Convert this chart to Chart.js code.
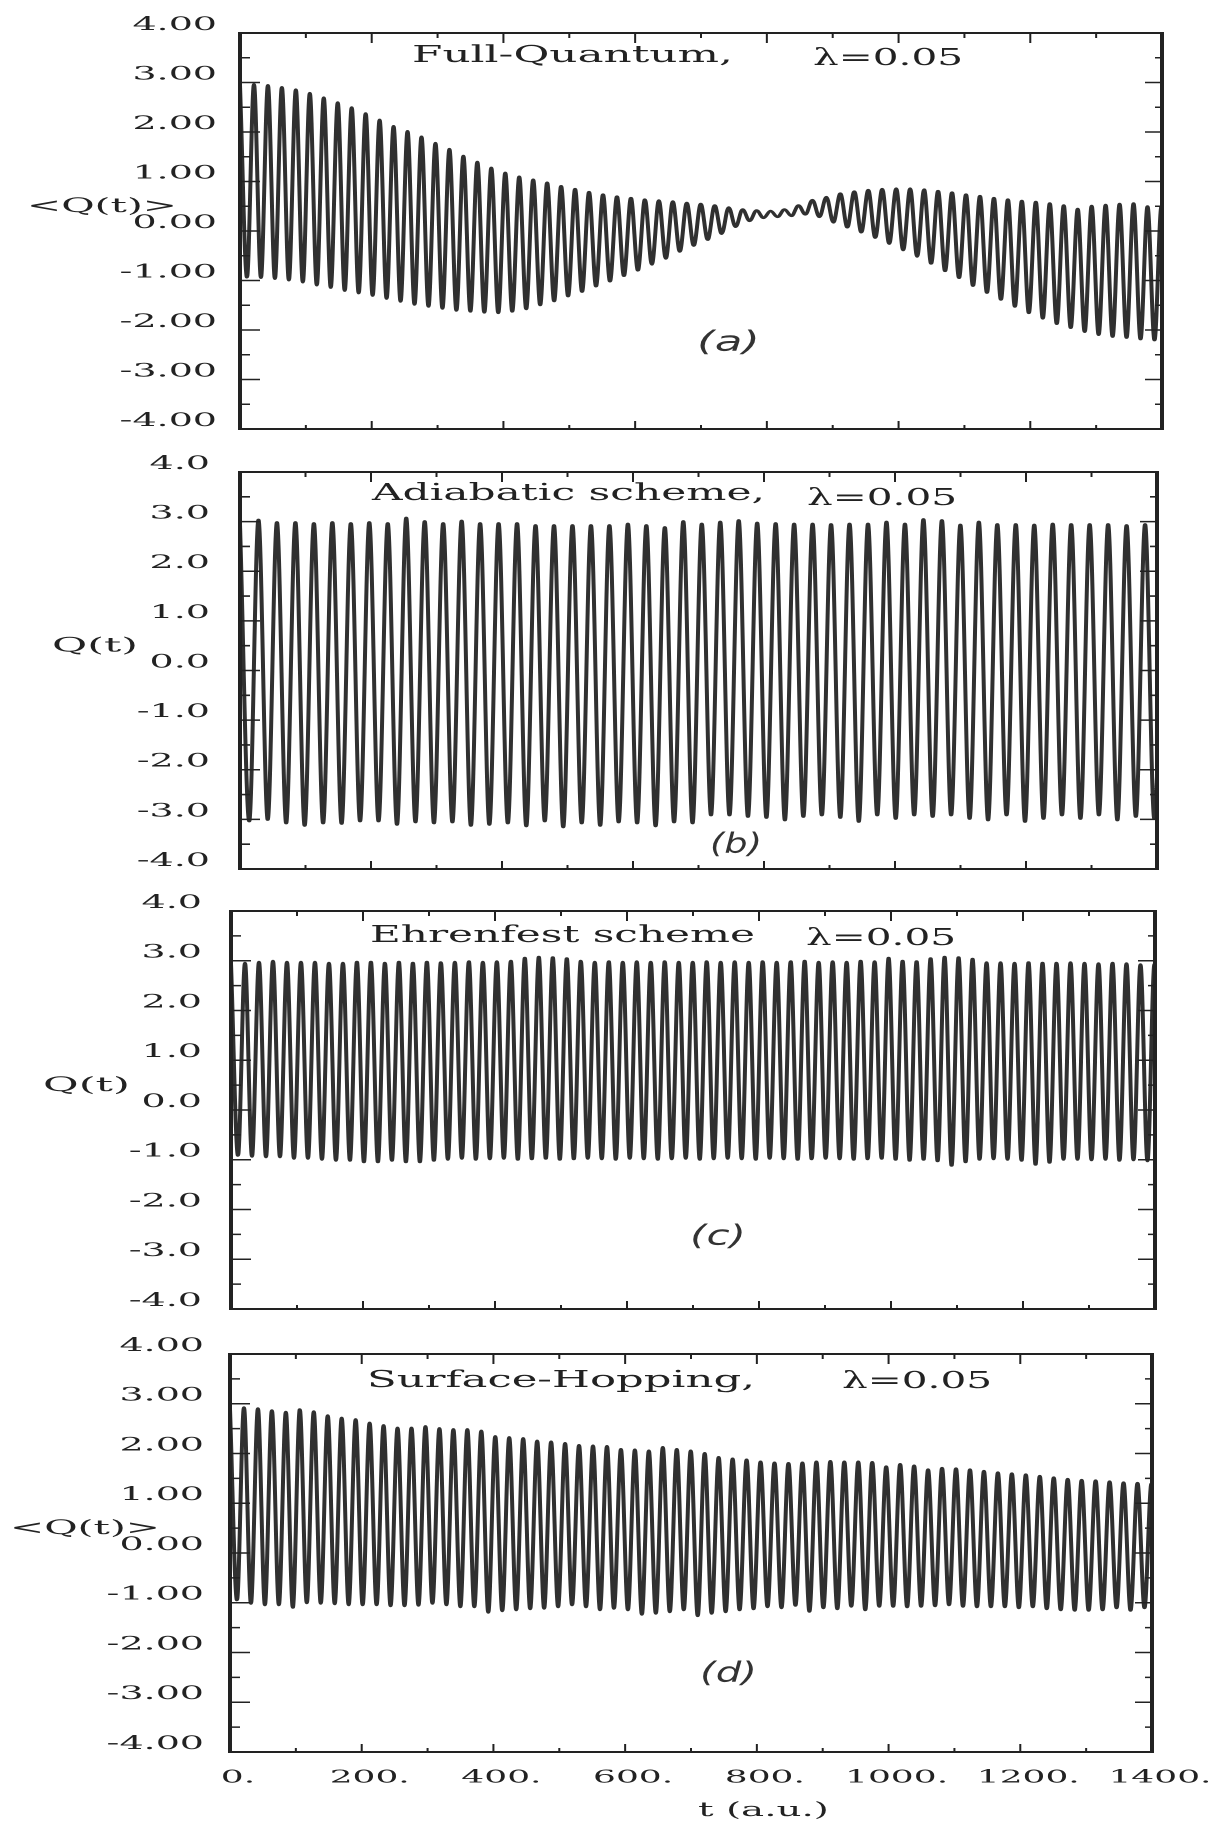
<!DOCTYPE html>
<html>
<head>
<meta charset="utf-8">
<script src="https://cdn.jsdelivr.net/npm/chart.js@4.4.1/dist/chart.umd.min.js"></script>
<style>
  html, body { margin: 0; padding: 0; background: #ffffff; }
  body { width: 1213px; height: 1826px; position: relative; overflow: hidden; }
  canvas { position: absolute; left: 0; }
</style>
</head>
<body>
<canvas id="ca" width="606" height="445" style="top:0px;width:1212px;height:445px"></canvas>
<canvas id="cb" width="606" height="440" style="top:445px;width:1212px;height:440px"></canvas>
<canvas id="cc" width="606" height="440" style="top:885px;width:1212px;height:440px"></canvas>
<canvas id="cd" width="606" height="501" style="top:1325px;width:1212px;height:501px"></canvas>
<script>
// ---------------- data ----------------
const xTickValues = [0, 200, 400, 600, 800, 1000, 1200, 1400];
const xTickLabels = ["0.", "200.", "400.", "600.", "800.", "1000.", "1200.", "1400."];
const yTickValues = [4, 3, 2, 1, 0, -1, -2, -3, -4];
const yTickLabels2 = ["4.00", "3.00", "2.00", "1.00", "0.00", "-1.00", "-2.00", "-3.00", "-4.00"];
const yTickLabels1 = ["4.0", "3.0", "2.0", "1.0", "0.0", "-1.0", "-2.0", "-3.0", "-4.0"];

// oscillation periods (a.u.) read from peak spacing
const periodA = 21.2, periodB = 28.2, periodC = 21.2, periodD = 21.2;

// (a) Full-Quantum: successive maxima and minima
const peaksA = [2.95, 2.97, 2.95, 2.91, 2.86, 2.79, 2.70, 2.60, 2.50, 2.38,
  2.25, 2.12, 2.02, 1.91, 1.78, 1.66, 1.52, 1.40, 1.28, 1.18,
  1.10, 1.04, 0.98, 0.91, 0.85, 0.79, 0.74, 0.70, 0.67, 0.64,
  0.62, 0.60, 0.57, 0.55, 0.52, 0.48, 0.44, 0.42, 0.41, 0.44,
  0.52, 0.63, 0.69, 0.76, 0.80, 0.83, 0.85, 0.86, 0.86, 0.84,
  0.81, 0.78, 0.74, 0.71, 0.67, 0.64, 0.61, 0.59, 0.56, 0.52,
  0.45, 0.51, 0.53, 0.55, 0.56, 0.50, 0.50];
const troughsA = [-0.94, -0.95, -0.97, -1.00, -1.04, -1.10, -1.15, -1.21, -1.26, -1.31,
  -1.37, -1.43, -1.49, -1.53, -1.57, -1.61, -1.63, -1.65, -1.66, -1.63,
  -1.58, -1.50, -1.42, -1.32, -1.23, -1.12, -1.02, -0.91, -0.80, -0.68,
  -0.56, -0.42, -0.30, -0.18, -0.06, 0.08, 0.20, 0.26, 0.28, 0.30,
  0.33, 0.28, 0.17, 0.07, -0.03, -0.14, -0.26, -0.39, -0.52, -0.66,
  -0.81, -0.95, -1.11, -1.25, -1.39, -1.53, -1.66, -1.77, -1.88, -1.96,
  -2.04, -2.10, -2.14, -2.16, -2.19, -2.21, -2.22];

// (b) Adiabatic scheme
const peaksB = [2.95, 3.04, 2.99, 2.99, 2.97, 2.99, 2.97, 2.99, 2.97, 3.08,
  3.01, 2.97, 3.02, 2.97, 2.97, 2.97, 2.93, 2.93, 2.93, 2.93,
  2.93, 2.96, 2.93, 2.89, 3.01, 2.96, 3.00, 3.03, 2.98, 2.97,
  2.96, 2.96, 2.95, 2.96, 2.96, 3.00, 2.96, 3.05, 3.03, 2.94,
  3.00, 2.95, 2.95, 2.94, 2.96, 2.95, 2.95, 2.95, 2.93, 2.95, 2.90];
const troughsB = [-3.04, -3.01, -3.08, -3.13, -3.08, -3.09, -3.04, -3.04, -3.11, -3.06,
  -3.08, -3.06, -3.13, -3.11, -3.08, -3.14, -3.04, -3.16, -3.08, -3.13,
  -3.06, -3.08, -3.14, -3.06, -3.08, -2.92, -2.92, -2.95, -2.97, -3.02,
  -2.95, -2.92, -2.97, -3.05, -2.92, -2.99, -2.92, -2.95, -2.92, -2.99,
  -3.02, -2.92, -3.05, -2.99, -2.92, -2.99, -2.92, -3.02, -2.95, -2.99];

// (c) Ehrenfest scheme
const peaksC = [2.95, 2.96, 2.98, 3.00, 2.98, 2.98, 2.98, 2.96, 2.96, 2.98,
  2.98, 2.96, 2.98, 2.96, 2.98, 2.97, 2.98, 2.99, 2.98, 2.99,
  3.00, 3.06, 3.08, 3.07, 3.05, 3.00, 2.98, 2.99, 2.98, 2.99,
  2.98, 2.99, 2.98, 2.98, 2.99, 2.98, 2.99, 2.98, 2.99, 2.98,
  2.99, 3.00, 2.98, 2.99, 2.98, 3.00, 2.99, 3.06, 3.00, 2.99,
  3.05, 3.08, 3.07, 3.04, 2.97, 2.97, 2.96, 2.97, 2.96, 2.96,
  2.97, 2.96, 2.95, 2.96, 2.95, 2.93, 2.94];
const troughsC = [-0.92, -0.94, -0.95, -0.95, -0.98, -0.98, -1.00, -1.02, -1.02, -1.05,
  -1.05, -1.02, -1.05, -1.05, -1.02, -1.00, -0.98, -1.00, -0.99, -0.98,
  -1.00, -0.99, -0.98, -1.00, -0.99, -0.98, -0.99, -1.00, -0.98, -0.99,
  -1.00, -0.99, -0.98, -1.00, -0.99, -0.98, -0.99, -1.00, -0.98, -0.99,
  -1.00, -0.99, -0.98, -0.99, -1.00, -0.99, -0.98, -1.00, -1.02, -1.00,
  -1.03, -1.12, -1.05, -1.00, -0.99, -1.00, -1.02, -1.10, -1.06, -1.00,
  -1.00, -1.01, -1.00, -1.02, -1.01, -1.03, -1.02];

// (d) Surface-Hopping
const peaksD = [2.90, 2.93, 2.91, 2.87, 2.84, 2.89, 2.85, 2.77, 2.72, 2.69,
  2.62, 2.57, 2.52, 2.52, 2.55, 2.51, 2.49, 2.49, 2.46, 2.35,
  2.33, 2.31, 2.26, 2.24, 2.21, 2.17, 2.16, 2.15, 2.09, 2.08,
  2.06, 2.13, 2.09, 2.06, 2.01, 1.93, 1.90, 1.88, 1.84, 1.82,
  1.81, 1.82, 1.84, 1.85, 1.84, 1.84, 1.83, 1.74, 1.79, 1.76,
  1.68, 1.71, 1.70, 1.68, 1.65, 1.62, 1.60, 1.58, 1.55, 1.52,
  1.49, 1.47, 1.46, 1.44, 1.42, 1.41, 1.40];
const troughsD = [-0.95, -1.02, -1.05, -1.05, -1.10, -1.01, -1.02, -1.03, -1.05, -1.05,
  -1.05, -1.07, -1.07, -1.06, -1.02, -1.05, -1.09, -1.09, -1.20, -1.17,
  -1.15, -1.13, -1.12, -1.09, -1.05, -1.09, -1.15, -1.12, -1.15, -1.24,
  -1.22, -1.19, -1.15, -1.27, -1.22, -1.19, -1.15, -1.13, -1.09, -1.11,
  -1.06, -1.18, -1.11, -1.13, -1.08, -1.15, -1.08, -1.08, -1.09, -1.08,
  -1.07, -1.05, -1.08, -1.09, -1.09, -1.09, -1.11, -1.09, -1.13, -1.15,
  -1.16, -1.16, -1.15, -1.11, -1.16, -1.11, -1.15];

// ---------------- build points from the extrema ----------------
function buildSeries(peaks, troughs, period) {
  const pts = [];
  const n = Math.max(peaks.length, troughs.length);
  for (let i = 0; i < n; i++) {
    if (i < peaks.length) pts.push({ x: i * period, y: peaks[i] });
    if (i < troughs.length) pts.push({ x: (i + 0.5) * period, y: troughs[i] });
  }
  return pts;
}

// ---------------- layout (full-page pixels) ----------------
const SERIF = '"DejaVu Serif", "Liberation Serif", serif';
const panels = [
  { id: 'ca', h: 445, L: 240, R: 1162, T: 33, B: 429, yLabels: yTickLabels2, gap: 23,
    yTitle: '<Q(t)>', yTitleX: [27, 177],
    titles: [['Full-Quantum,', 412, 733, 62], ['\u03bb=0.05', 813, 963, 65]],
    tag: ['(a)', 697, 760, 343], series: buildSeries(peaksA, troughsA, periodA), xLabels: false },
  { id: 'cb', h: 440, L: 240, R: 1157, T: 27, B: 424, yLabels: yTickLabels1, gap: 30,
    yTitle: 'Q(t)', yTitleX: [52, 138],
    titles: [['Adiabatic scheme,', 372, 765, 55], ['\u03bb=0.05', 807, 957, 60]],
    tag: ['(b)', 710, 762, 400], series: buildSeries(peaksB, troughsB, periodB), xLabels: false },
  { id: 'cc', h: 440, L: 231, R: 1155, T: 26, B: 424, yLabels: yTickLabels1, gap: 29,
    yTitle: 'Q(t)', yTitleX: [43, 130],
    titles: [['Ehrenfest scheme', 370, 755, 57], ['\u03bb=0.05', 806, 956, 60]],
    tag: ['(c)', 690, 746, 352], series: buildSeries(peaksC, troughsC, periodC), xLabels: false },
  { id: 'cd', h: 501, L: 230, R: 1152, T: 29, B: 427, yLabels: yTickLabels2, gap: 26,
    yTitle: '<Q(t)>', yTitleX: [10, 160],
    titles: [['Surface-Hopping,', 367, 755, 62], ['\u03bb=0.05', 842, 992, 63]],
    tag: ['(d)', 700, 757, 349], series: buildSeries(peaksD, troughsD, periodD), xLabels: true,
    xTitle: ['t (a.u.)', 698, 829, 486] }
];

function stretchText(ctx, text, font, x0, x1, y, baseline) {
  ctx.save();
  ctx.font = font;
  ctx.textAlign = 'left';
  ctx.textBaseline = baseline || 'alphabetic';
  const w = ctx.measureText(text).width;
  ctx.translate(x0 / 2, y);
  ctx.scale(((x1 - x0) / 2) / w, 1);
  ctx.fillText(text, 0, 0);
  ctx.restore();
}

function makeFramePlugin(p) {
  return {
    id: 'frame_' + p.id,
    afterDatasetsDraw(chart) {
      const { ctx, chartArea: a, scales: { x, y } } = chart;
      ctx.save();
      ctx.strokeStyle = '#222';
      ctx.lineWidth = 2;
      ctx.strokeRect(a.left, a.top, a.right - a.left, a.bottom - a.top);
      // inward ticks on the y sides
      ctx.lineWidth = 1.6;
      ctx.beginPath();
      for (let v = -3.5; v <= 3.5; v += 0.5) {
        const py = y.getPixelForValue(v);
        const major = Number.isInteger(v);
        ctx.moveTo(a.left, py); ctx.lineTo(a.left + (major ? 10 : 5), py);
        ctx.moveTo(a.right, py); ctx.lineTo(a.right - (major ? 8.5 : 3.5), py);
      }
      ctx.stroke();
      // inward ticks on the x sides
      ctx.lineWidth = 1;
      ctx.beginPath();
      for (let t = 100; t < 1400; t += 100) {
        const px = x.getPixelForValue(t);
        const major = t % 200 === 0;
        ctx.moveTo(px, a.top); ctx.lineTo(px, a.top + (major ? 10 : 5));
        ctx.moveTo(px, a.bottom); ctx.lineTo(px, a.bottom - (major ? 8 : 4));
      }
      ctx.stroke();
      ctx.fillStyle = '#222';
      // y axis title
      stretchText(ctx, p.yTitle, '20px ' + SERIF, p.yTitleX[0], p.yTitleX[1], y.getPixelForValue(0) - 24, 'middle');
      // panel titles
      for (const t of p.titles) stretchText(ctx, t[0], '23px ' + SERIF, t[1], t[2], t[3], 'alphabetic');
      // handwritten tag
      ctx.fillStyle = '#333';
      stretchText(ctx, p.tag[0], 'italic 300 28px "DejaVu Sans", sans-serif', p.tag[1], p.tag[2], p.tag[3], 'middle');
      if (p.xTitle) {
        ctx.fillStyle = '#222';
        stretchText(ctx, p.xTitle[0], '20px ' + SERIF, p.xTitle[1], p.xTitle[2], p.xTitle[3], 'middle');
      }
      ctx.restore();
    }
  };
}

for (const p of panels) {
  const cv = document.getElementById(p.id);
  new Chart(cv, {
    type: 'line',
    data: {
      datasets: [{
        data: p.series,
        borderColor: '#303030',
        borderWidth: 2,
        pointRadius: 0,
        fill: false,
        cubicInterpolationMode: 'monotone'
      }]
    },
    options: {
      responsive: false,
      animation: false,
      devicePixelRatio: 2,
      events: [],
      layout: { padding: { left: 0, right: 606 - p.R / 2, top: p.T, bottom: 0 } },
      plugins: { legend: { display: false }, tooltip: { enabled: false }, title: { display: false } },
      scales: {
        x: {
          type: 'linear', min: 0, max: 1400, position: 'bottom',
          afterFit: (s) => { s.height = p.h - p.B; },
          grid: { display: false, drawTicks: true, tickLength: 15 },
          border: { display: false },
          ticks: {
            display: p.xLabels, stepSize: 200, autoSkip: false, maxRotation: 0, padding: 0,
            labelOffset: 4, color: '#222', font: { family: SERIF, size: 18 },
            callback: (v) => { const i = xTickValues.indexOf(v); return i < 0 ? '' : xTickLabels[i]; }
          }
        },
        y: {
          type: 'linear', min: -4, max: 4, position: 'left',
          afterFit: (s) => { s.width = p.L / 2; },
          grid: { display: false, drawTicks: true, tickLength: p.gap / 2 },
          border: { display: false },
          ticks: {
            stepSize: 1, autoSkip: false, padding: 0, labelOffset: -8,
            color: '#222', font: { family: SERIF, size: 19 },
            callback: (v) => { const i = yTickValues.indexOf(v); return i < 0 ? '' : p.yLabels[i]; }
          }
        }
      }
    },
    plugins: [makeFramePlugin(p)]
  });
}
</script>
</body>
</html>
